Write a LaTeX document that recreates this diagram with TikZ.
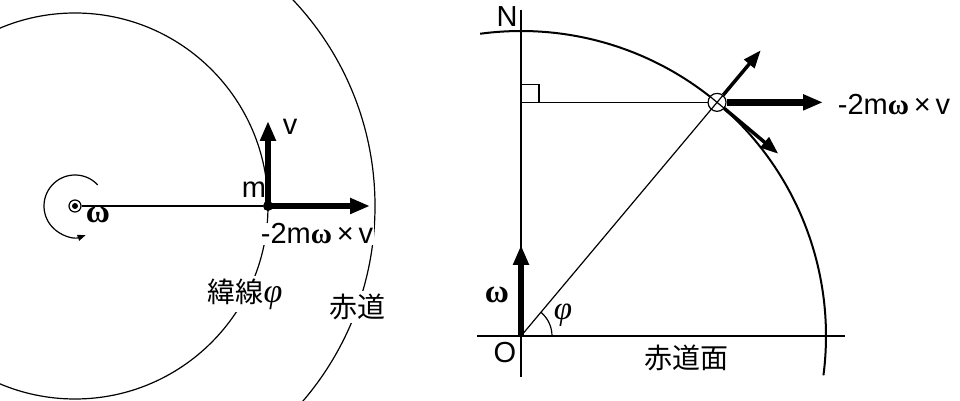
\documentclass[tikz,border=0pt]{standalone}
\usepackage{amsmath,amssymb}
\usepackage{fontspec}
\setmainfont{Liberation Sans}
\newfontfamily\jpfont{Noto Sans CJK JP}
\newfontfamily\grkfont{Liberation Serif}
\newcommand\omg{{\grkfont\bfseries ω}}
\newcommand\phig{{\grkfont\itshape φ}}
\usetikzlibrary{arrows.meta,calc,positioning}

\tikzset{
  thinline/.style={line width=1.2pt},
  axisline/.style={line width=2pt},
  bigvec/.style={line width=6.5pt,-{Triangle[length=20pt,width=15pt]}},
  midvec/.style={line width=3.5pt,-{Triangle[length=18pt,width=13pt]}},
  lab/.style={font=\fontsize{29}{34}\selectfont,inner sep=1pt},
  jplab/.style={font=\fontsize{28}{32}\selectfont\jpfont,fill=white,inner sep=3pt},
  grk/.style={font=\fontsize{33}{36}\selectfont,inner sep=1pt},
}

\begin{document}
\begin{tikzpicture}[x=1pt,y=1pt]
  \useasboundingbox (0,0) rectangle (960,401);
  \clip (0,0) rectangle (960,401);

  % left: view from above the pole
  \coordinate (C) at (75,195);
  \draw[thinline] (C) circle (193pt);
  \draw[thinline] (C) circle (300pt);
  \node[circle,draw,thinline,fill=white,minimum size=12pt,inner sep=0] (hub) at (C) {};
  \fill (hub.center) circle (3pt);
  \draw[thinline,-{Triangle[length=8pt,width=6pt]}] (hub.center) ++(43:31pt)
    arc[start angle=43,end angle=290,radius=31pt];
  \node[grk] (wlabL) at (98,186) {\omg};
  % mass on the latitude circle
  \node[circle,fill,minimum size=10pt,inner sep=0] (mass) at (268,195) {};
  \draw[thinline] (hub) -- (mass);
  \coordinate (vtip) at (268,280);
  \coordinate (ftip) at (370,195);
  \draw[bigvec] (mass.center) -- (vtip);
  \draw[bigvec] (mass.center) -- (ftip);
  \node[lab] (mlab) at (254,211) {m};
  \node[lab] (vlab) at (290,274) {v};
  \node[lab,fill=white] (flab) at (317,167) {-2m{\fontsize{29}{32}\selectfont\omg}\,×\,v};
  \node[jplab] (latlab) at (245,107) {緯線{\fontsize{34}{36}\selectfont\phig}};
  \node[jplab] (eqlab) at (357,94) {赤道};

  % right: meridian section
  \coordinate (O) at (521,65);
  \coordinate (axS) at (521,24);
  \coordinate (axN) at (521,391);
  \coordinate (axW) at (477,65);
  \coordinate (axE) at (845,65);
  \draw[axisline] (axS) -- (axN);
  \draw[axisline] (axW) -- (axE);
  \draw[axisline] (O) ++(-7.4:305pt) arc[start angle=-7.4,end angle=97.7,radius=305pt];
  \coordinate (P) at ($(O)+(50:305pt)$);
  \coordinate (Q) at (O |- P);
  \draw[thinline] (O) -- (P);
  \draw[thinline] (Q) -- (P);
  \draw[thinline] (Q) rectangle ++(18,18);
  \draw[thinline] (O) ++(31pt,0) arc[start angle=0,end angle=50,radius=31pt];
  \coordinate (wtip) at (521,156);
  \draw[bigvec] (O) -- (wtip);
  % forces at P
  \node[circle,draw,thinline,fill=white,minimum size=18pt,inner sep=0] (Pmark) at (P) {};
  \draw[thinline] ($(P)+(50:9pt)$) -- ($(P)+(230:9pt)$);
  \draw[thinline] ($(P)+(140:9pt)$) -- ($(P)+(-40:9pt)$);
  \coordinate (ftipR) at (P -| 823,0);
  \coordinate (rtip) at ($(P)+(50:68pt)$);
  \coordinate (ttip) at ($(P)+(-40:80pt)$);
  \draw[bigvec] (Pmark) -- (ftipR);
  \draw[midvec] (Pmark) -- (rtip);
  \draw[midvec] (Pmark) -- (ttip);
  \node[lab] (flabR) at (894,296) {-2m{\fontsize{29}{32}\selectfont\omg}\,×\,v};
  \node[lab] (Nlab) at (507,384) {N};
  \node[lab] (Olab) at (505,48) {O};
  \node[grk] (wlabR) at (497,106) {\omg};
  \node[grk] (philab) at (563,86) {\phig};
  \node[jplab] (planelab) at (686,43) {赤道面};
\end{tikzpicture}
\end{document}
